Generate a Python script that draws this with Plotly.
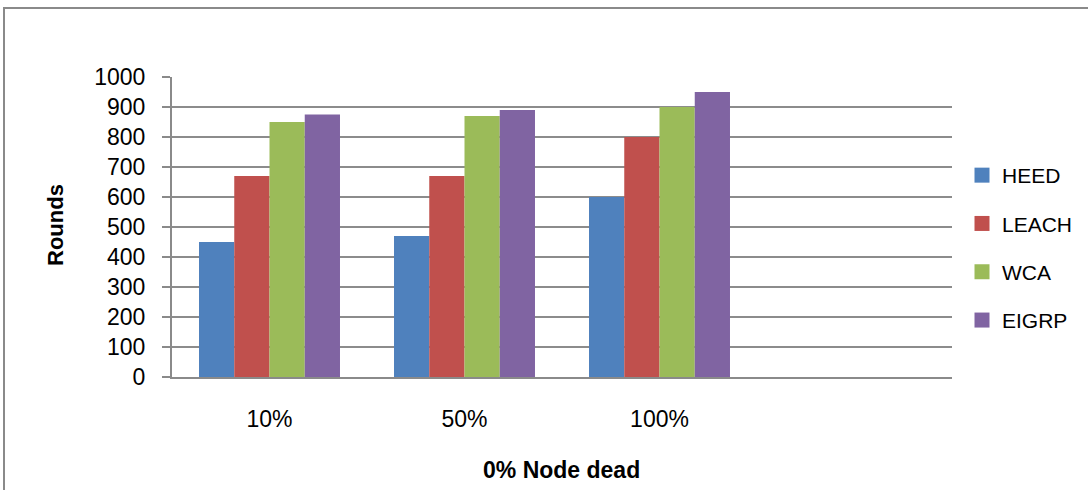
import plotly.graph_objects as go

categories = ["10%", "50%", "100%"]
heed = [450, 470, 600]
leach = [670, 670, 800]
wca = [850, 870, 900]
eigrp = [875, 890, 950]
series_names = ["HEED", "LEACH", "WCA", "EIGRP"]
colors = ["#4F81BD", "#C0504D", "#9BBB59", "#8064A2"]
y_ticks = list(range(0, 1001, 100))

FONT = "Liberation Sans, Arial, sans-serif"

# body margin is removed by post_script, so figure starts at (0,0)
OFF = 0
W, H = 1088, 490
L, T = 172 - OFF, 77 - OFF
pw, ph = 780, 300
R = W - L - pw
B = H - T - ph


def px_x(px):
    return (px - OFF - L) / pw


def px_y(py):
    return (T + ph - (py - OFF)) / ph


fig = go.Figure()
for name, vals, col in zip(series_names, [heed, leach, wca, eigrp], colors):
    fig.add_trace(go.Bar(x=categories, y=vals, name=name, marker_color=col,
                         marker_line_width=0, showlegend=False))
# legend entries with larger square swatches
for name, col in zip(series_names, colors):
    fig.add_trace(go.Scatter(x=[None], y=[None], mode="markers", name=name,
                             marker=dict(symbol="square", size=15, color=col),
                             legendgroup=name, hoverinfo="skip"))

fig.update_layout(
    width=W, height=H,
    margin=dict(l=L, r=R, t=T, b=B, autoexpand=False),
    paper_bgcolor="white", plot_bgcolor="white",
    barmode="group", bargap=0.277, bargroupgap=0,
    font=dict(family=FONT, size=23, color="black"),
    showlegend=True,
    legend=dict(x=px_x(962), y=px_y(155), xanchor="left", yanchor="top",
                font=dict(size=21), tracegroupgap=18, bgcolor="rgba(0,0,0,0)",
                itemwidth=30),
    xaxis=dict(type="category", categoryorder="array",
               categoryarray=categories + [" "], range=[-0.5, 3.5],
               showline=True, linecolor="#8a8a8a", linewidth=2,
               showgrid=False, ticks="", ticklabelstandoff=20,
               tickfont=dict(size=23), fixedrange=True),
    yaxis=dict(range=[0, 1000], tickvals=y_ticks, showline=True,
               linecolor="#8a8a8a", linewidth=2, showgrid=True,
               gridcolor="#8c8c8c", gridwidth=1.5, ticks="outside",
               ticklen=8, tickcolor="#8a8a8a", tickwidth=1.5,
               ticklabelstandoff=12, tickfont=dict(size=23), zeroline=False,
               fixedrange=True),
    annotations=[
        dict(text="<b>Rounds</b>", xref="paper", yref="paper",
             x=px_x(55), y=px_y(225), xanchor="center", yanchor="middle",
             showarrow=False, textangle=-90,
             font=dict(family=FONT, size=22)),
        dict(text="<b>0% Node dead</b>", xref="paper", yref="paper",
             x=px_x(561), y=px_y(470), xanchor="center", yanchor="middle",
             showarrow=False, font=dict(family=FONT, size=23)),
    ],
    shapes=[
        dict(type="rect", xref="paper", yref="paper",
             x0=px_x(4), x1=px_x(1300), y0=px_y(700), y1=px_y(8),
             line=dict(color="#8a8a8a", width=2), fillcolor="rgba(0,0,0,0)",
             layer="below"),
    ],
)

fig.write_html(
    "out.html",
    config={"displayModeBar": False},
    post_script="document.body.style.margin='0';document.body.style.overflow='hidden';",
)
